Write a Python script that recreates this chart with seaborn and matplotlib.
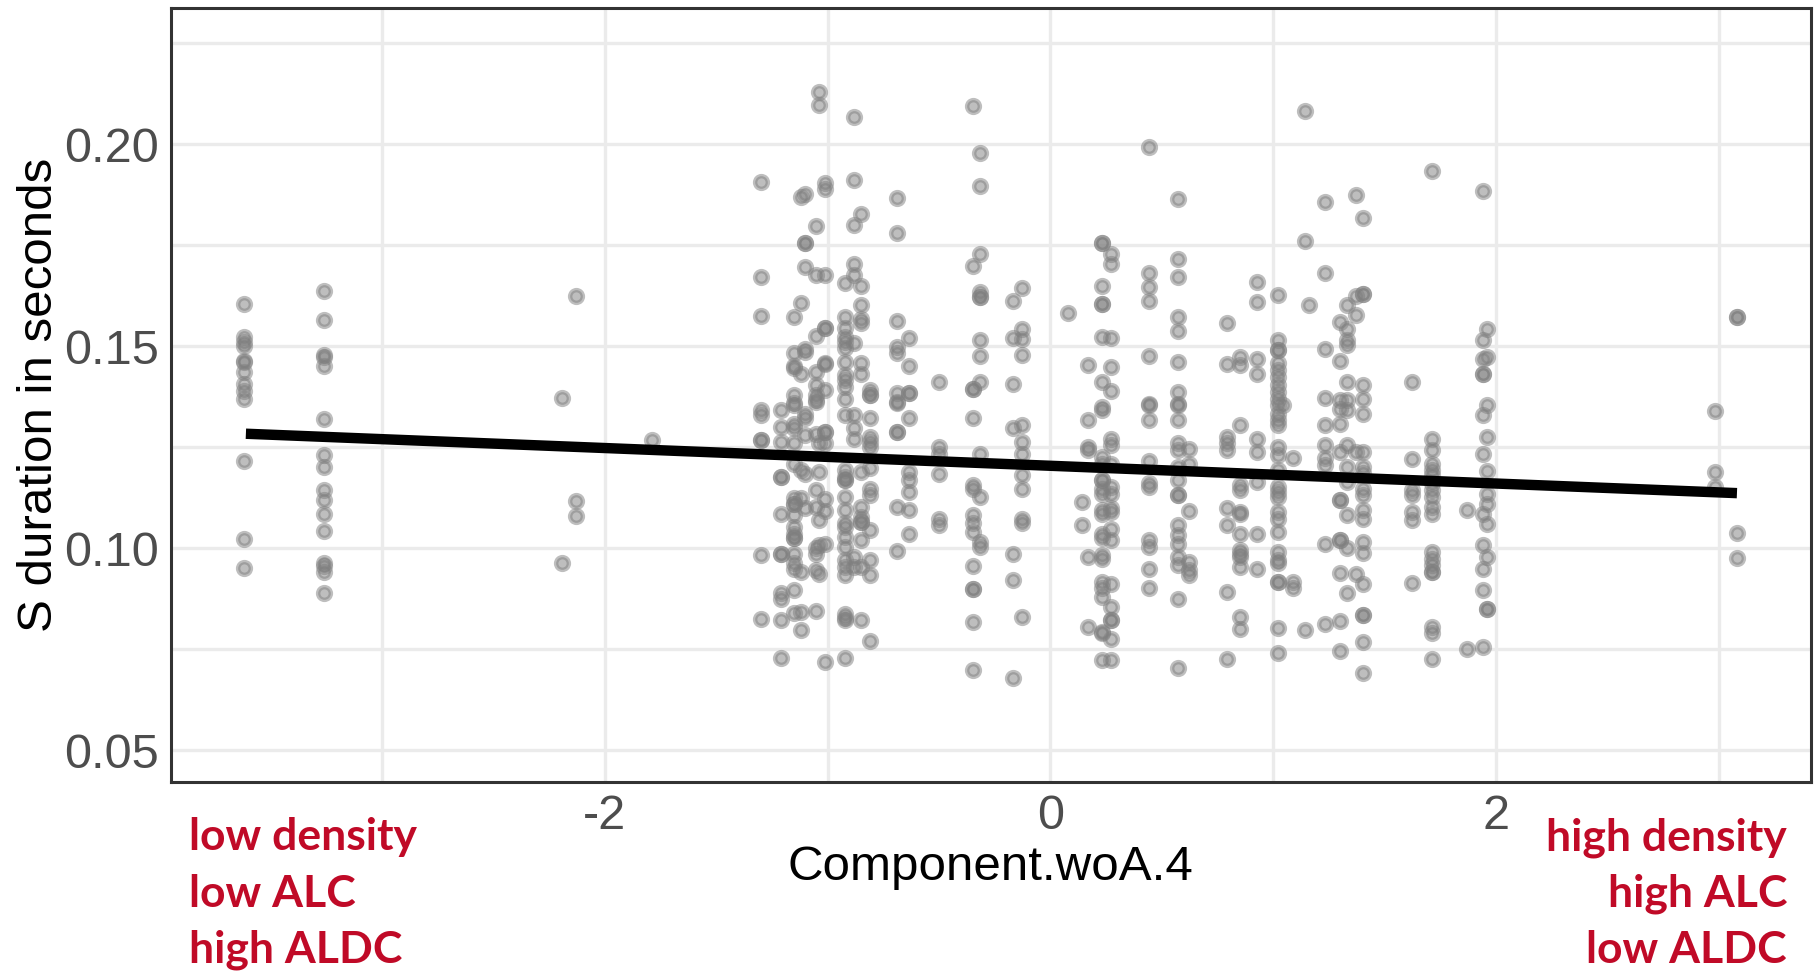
import numpy as np
import pandas as pd
import matplotlib.pyplot as plt
import seaborn as sns

# x position of each column of tokens (Component.woA.4) and the S durations in it
col_x = [-3.62, -3.26, -2.19, -2.13, -1.79, -1.30, -1.21, -1.15, -1.12, -1.10,
         -1.05, -1.04, -1.01, -0.92, -0.88, -0.85, -0.81, -0.69, -0.635, -0.50,
         -0.346, -0.314, -0.17, -0.13, 0.08, 0.14, 0.17, 0.23, 0.27, 0.44,
         0.57, 0.62, 0.79, 0.85, 0.925, 1.02, 1.045, 1.09, 1.14, 1.16,
         1.23, 1.30, 1.33, 1.37, 1.40, 1.62, 1.71, 1.87, 1.94, 1.96,
         2.98, 3.08]
col_dur = [
    [0.1603, 0.1522, 0.1510, 0.1499, 0.1464, 0.1460, 0.1437, 0.1407, 0.1390, 0.1368, 0.1216, 0.1022, 0.0950],
    [0.1637, 0.1564, 0.1478, 0.1472, 0.1451, 0.1319, 0.1230, 0.1201, 0.1144, 0.1119, 0.1084, 0.1043, 0.0964, 0.0955, 0.0941, 0.0888],
    [0.1372, 0.0964],
    [0.1625, 0.1117, 0.1080],
    [0.1267],
    [0.1907, 0.1670, 0.1574, 0.1342, 0.1329, 0.1267, 0.1267, 0.0984, 0.0824],
    [0.1342, 0.1300, 0.1263, 0.1176, 0.1176, 0.1085, 0.0986, 0.0986, 0.0888, 0.0873, 0.0823, 0.0728],
    [0.1572, 0.1482, 0.1450, 0.1446, 0.1379, 0.1358, 0.1354, 0.1308, 0.1296, 0.1259, 0.1209, 0.1123, 0.1110, 0.1110, 0.1081, 0.1053, 0.1036, 0.1024, 0.1024, 0.0986, 0.0962, 0.0949, 0.0896, 0.0840],
    [0.1870, 0.1607, 0.1432, 0.1193, 0.1123, 0.0941, 0.0842, 0.0798],
    [0.1876, 0.1754, 0.1754, 0.1696, 0.1492, 0.1486, 0.1333, 0.1321, 0.1279, 0.1183, 0.1098],
    [0.1798, 0.1676, 0.1525, 0.1436, 0.1403, 0.1379, 0.1366, 0.1362, 0.1283, 0.1143, 0.1102, 0.0999, 0.0985, 0.0945, 0.0844],
    [0.2128, 0.2096, 0.1259, 0.1189, 0.1069, 0.1007, 0.0937],
    [0.1903, 0.1889, 0.1676, 0.1545, 0.1545, 0.1457, 0.1455, 0.1391, 0.1288, 0.1288, 0.1259, 0.1121, 0.1091, 0.1011, 0.0717],
    [0.1657, 0.1571, 0.1544, 0.1523, 0.1511, 0.1494, 0.1461, 0.1428, 0.1416, 0.1399, 0.1368, 0.1329, 0.1193, 0.1176, 0.1168, 0.1168, 0.1127, 0.1094, 0.1061, 0.1052, 0.1028, 0.1003, 0.0970, 0.0954, 0.0933, 0.0838, 0.0826, 0.0822, 0.0727],
    [0.2068, 0.1912, 0.1799, 0.1704, 0.1676, 0.1508, 0.1329, 0.1296, 0.1271, 0.0978, 0.0954],
    [0.1826, 0.1649, 0.1601, 0.1566, 0.1556, 0.1459, 0.1431, 0.1189, 0.1102, 0.1077, 0.1065, 0.1065, 0.1021, 0.0954, 0.0823],
    [0.1391, 0.1379, 0.1379, 0.1321, 0.1275, 0.1263, 0.1250, 0.1197, 0.1147, 0.1131, 0.1044, 0.0970, 0.0933, 0.0769],
    [0.1867, 0.1781, 0.1562, 0.1498, 0.1482, 0.1383, 0.1362, 0.1358, 0.1288, 0.1288, 0.1102, 0.0992],
    [0.1519, 0.1451, 0.1383, 0.1383, 0.1321, 0.1189, 0.1168, 0.1139, 0.1095, 0.1034],
    [0.1410, 0.1250, 0.1234, 0.1184, 0.1073, 0.1057],
    [0.2094, 0.1699, 0.1393, 0.1393, 0.1321, 0.1156, 0.1147, 0.1081, 0.1061, 0.1040, 0.0956, 0.0898, 0.0898, 0.0817, 0.0698],
    [0.1977, 0.1897, 0.1729, 0.1634, 0.1622, 0.1622, 0.1515, 0.1476, 0.1410, 0.1234, 0.1127, 0.1015, 0.1003],
    [0.1611, 0.1521, 0.1406, 0.1296, 0.0986, 0.0920, 0.0679],
    [0.1643, 0.1541, 0.1518, 0.1478, 0.1304, 0.1263, 0.1234, 0.1180, 0.1147, 0.1073, 0.1061, 0.0830],
    [0.1583],
    [0.1113, 0.1057],
    [0.1453, 0.1316, 0.1250, 0.1242, 0.0977, 0.0805],
    [0.1754, 0.1754, 0.1648, 0.1603, 0.1603, 0.1523, 0.1412, 0.1350, 0.1341, 0.1226, 0.1209, 0.1168, 0.1168, 0.1147, 0.1135, 0.1094, 0.1085, 0.1036, 0.1024, 0.0982, 0.0974, 0.0916, 0.0900, 0.0879, 0.0793, 0.0789, 0.0724],
    [0.1729, 0.1704, 0.1521, 0.1447, 0.1389, 0.1271, 0.1255, 0.1209, 0.1151, 0.1135, 0.1098, 0.1090, 0.1048, 0.1020, 0.0910, 0.0853, 0.0823, 0.0823, 0.0776, 0.0724],
    [0.1993, 0.1680, 0.1645, 0.1611, 0.1475, 0.1356, 0.1354, 0.1318, 0.1215, 0.1160, 0.1150, 0.1020, 0.1003, 0.0947, 0.0902],
    [0.1865, 0.1715, 0.1670, 0.1571, 0.1538, 0.1461, 0.1387, 0.1356, 0.1354, 0.1316, 0.1259, 0.1242, 0.1201, 0.1168, 0.1131, 0.1131, 0.1057, 0.1032, 0.1011, 0.0978, 0.0958, 0.0873, 0.0702],
    [0.1246, 0.1209, 0.1092, 0.0966, 0.0945, 0.0933],
    [0.1556, 0.1455, 0.1275, 0.1259, 0.1242, 0.1098, 0.1057, 0.0892, 0.0725],
    [0.1472, 0.1453, 0.1304, 0.1156, 0.1143, 0.1090, 0.1085, 0.1036, 0.0995, 0.0985, 0.0978, 0.0954, 0.0830, 0.0800],
    [0.1659, 0.1608, 0.1467, 0.1431, 0.1271, 0.1238, 0.1164, 0.1036, 0.0949],
    [0.1626, 0.1516, 0.1490, 0.1490, 0.1457, 0.1441, 0.1424, 0.1403, 0.1387, 0.1370, 0.1354, 0.1333, 0.1317, 0.1304, 0.1250, 0.1230, 0.1193, 0.1152, 0.1139, 0.1127, 0.1090, 0.1073, 0.1040, 0.0991, 0.0970, 0.0962, 0.0916, 0.0916, 0.0801, 0.0741],
    [0.1354],
    [0.1222, 0.0916, 0.0900],
    [0.2082, 0.1761, 0.0798],
    [0.1601],
    [0.1857, 0.1681, 0.1492, 0.1372, 0.1304, 0.1255, 0.1222, 0.1205, 0.1010, 0.0812],
    [0.1560, 0.1464, 0.1366, 0.1345, 0.1308, 0.1238, 0.1118, 0.1118, 0.1019, 0.1019, 0.0939, 0.0820, 0.0746],
    [0.1601, 0.1542, 0.1516, 0.1502, 0.1410, 0.1366, 0.1341, 0.1255, 0.1201, 0.1164, 0.1081, 0.0999, 0.0888],
    [0.1874, 0.1625, 0.1578, 0.1238, 0.0935],
    [0.1818, 0.1630, 0.1630, 0.1403, 0.1370, 0.1333, 0.1238, 0.1201, 0.1185, 0.1147, 0.1131, 0.1094, 0.1073, 0.1015, 0.0987, 0.0912, 0.0834, 0.0834, 0.0768, 0.0691],
    [0.1410, 0.1220, 0.1143, 0.1131, 0.1090, 0.1069, 0.0914],
    [0.1933, 0.1271, 0.1242, 0.1209, 0.1193, 0.1180, 0.1160, 0.1143, 0.1127, 0.1102, 0.1085, 0.0991, 0.0974, 0.0958, 0.0941, 0.0941, 0.0805, 0.0791, 0.0725],
    [0.1094, 0.0751],
    [0.1884, 0.1516, 0.1467, 0.1432, 0.1432, 0.1329, 0.1234, 0.1085, 0.1007, 0.0947, 0.0897, 0.0755],
    [0.1541, 0.1472, 0.1354, 0.1274, 0.1191, 0.1135, 0.1110, 0.1059, 0.0977, 0.0850, 0.0850],
    [0.1339, 0.1189, 0.1152],
    [0.1573, 0.1573, 0.1038, 0.0975],
]

# fitted line (at its two ends)
fit_x = [-3.61, 3.08]
fit_y = [0.1283, 0.1136]

x_ticks = [-2, 0, 2]
x_tick_labels = ['-2', '0', '2']
y_ticks = [0.05, 0.10, 0.15, 0.20]
y_tick_labels = ['0.05', '0.10', '0.15', '0.20']

left_notes = ['low density', 'low ALC', 'high ALDC']
right_notes = ['high density', 'high ALC', 'low ALDC']

df = pd.DataFrame({
    'Component.woA.4': np.repeat(col_x, [len(c) for c in col_dur]),
    'S_duration': [v for c in col_dur for v in c],
})

sns.set_theme(style='white')
plt.rcParams['font.family'] = ['Liberation Sans', 'DejaVu Sans']

W, H = 1816, 974
fig = plt.figure(figsize=(W / 100, H / 100), dpi=100)
ax = fig.add_axes([171 / W, 1 - 782 / H, (1810.5 - 171) / W, (782 - 8.3) / H])

sns.scatterplot(data=df, x='Component.woA.4', y='S_duration', color='#7f7f7f',
                alpha=0.5, s=84, edgecolor='#7f7f7f', linewidth=3.2, ax=ax, zorder=3)
sns.lineplot(x=fit_x, y=fit_y, color='black', linewidth=7.5, ax=ax, zorder=4,
             solid_capstyle='butt')

ax.set_xlim(-3.946, 3.41)
ax.set_ylim(0.0421, 0.2336)
ax.set_xticks(x_ticks)
ax.set_xticklabels(x_tick_labels)
ax.set_yticks(y_ticks)
ax.set_yticklabels(y_tick_labels)
ax.set_xticks([-3, -1, 1, 3], minor=True)
ax.set_yticks([0.075, 0.125, 0.175, 0.225], minor=True)

ax.set_axisbelow(True)
ax.grid(True, which='both', color='#EBEBEB', linewidth=2.4)
for sp in ax.spines.values():
    sp.set_color('#333333')
    sp.set_linewidth(2.2)

ax.tick_params(which='major', length=4.7, width=2.2, color='#333333',
               labelsize=35, labelcolor='#4D4D4D')
ax.tick_params(axis='x', which='major', pad=4)
ax.tick_params(axis='y', which='major', pad=4)
ax.tick_params(which='minor', length=0)

ax.set_xlabel('Component.woA.4', fontsize=35.5, color='black')
ax.xaxis.set_label_coords(0.5, -0.1267)
ax.xaxis.label.set_va('baseline')
ax.set_ylabel('S duration in seconds', fontsize=35.5, color='black')
ax.yaxis.set_label_coords(-0.0726, 0.5)
ax.yaxis.label.set_va('baseline')

baselines = [1 - 850 / H, 1 - 907 / H, 1 - 963 / H]
for b, lt, rt in zip(baselines, left_notes, right_notes):
    fig.text(189 / W, b, lt, ha='left', va='baseline', color='#C00A27',
             fontsize=32, fontweight='bold', family=['Lato', 'DejaVu Sans'])
    fig.text(1787 / W, b, rt, ha='right', va='baseline', color='#C00A27',
             fontsize=32, fontweight='bold', family=['Lato', 'DejaVu Sans'])

fig.savefig('out.png', dpi=100)
